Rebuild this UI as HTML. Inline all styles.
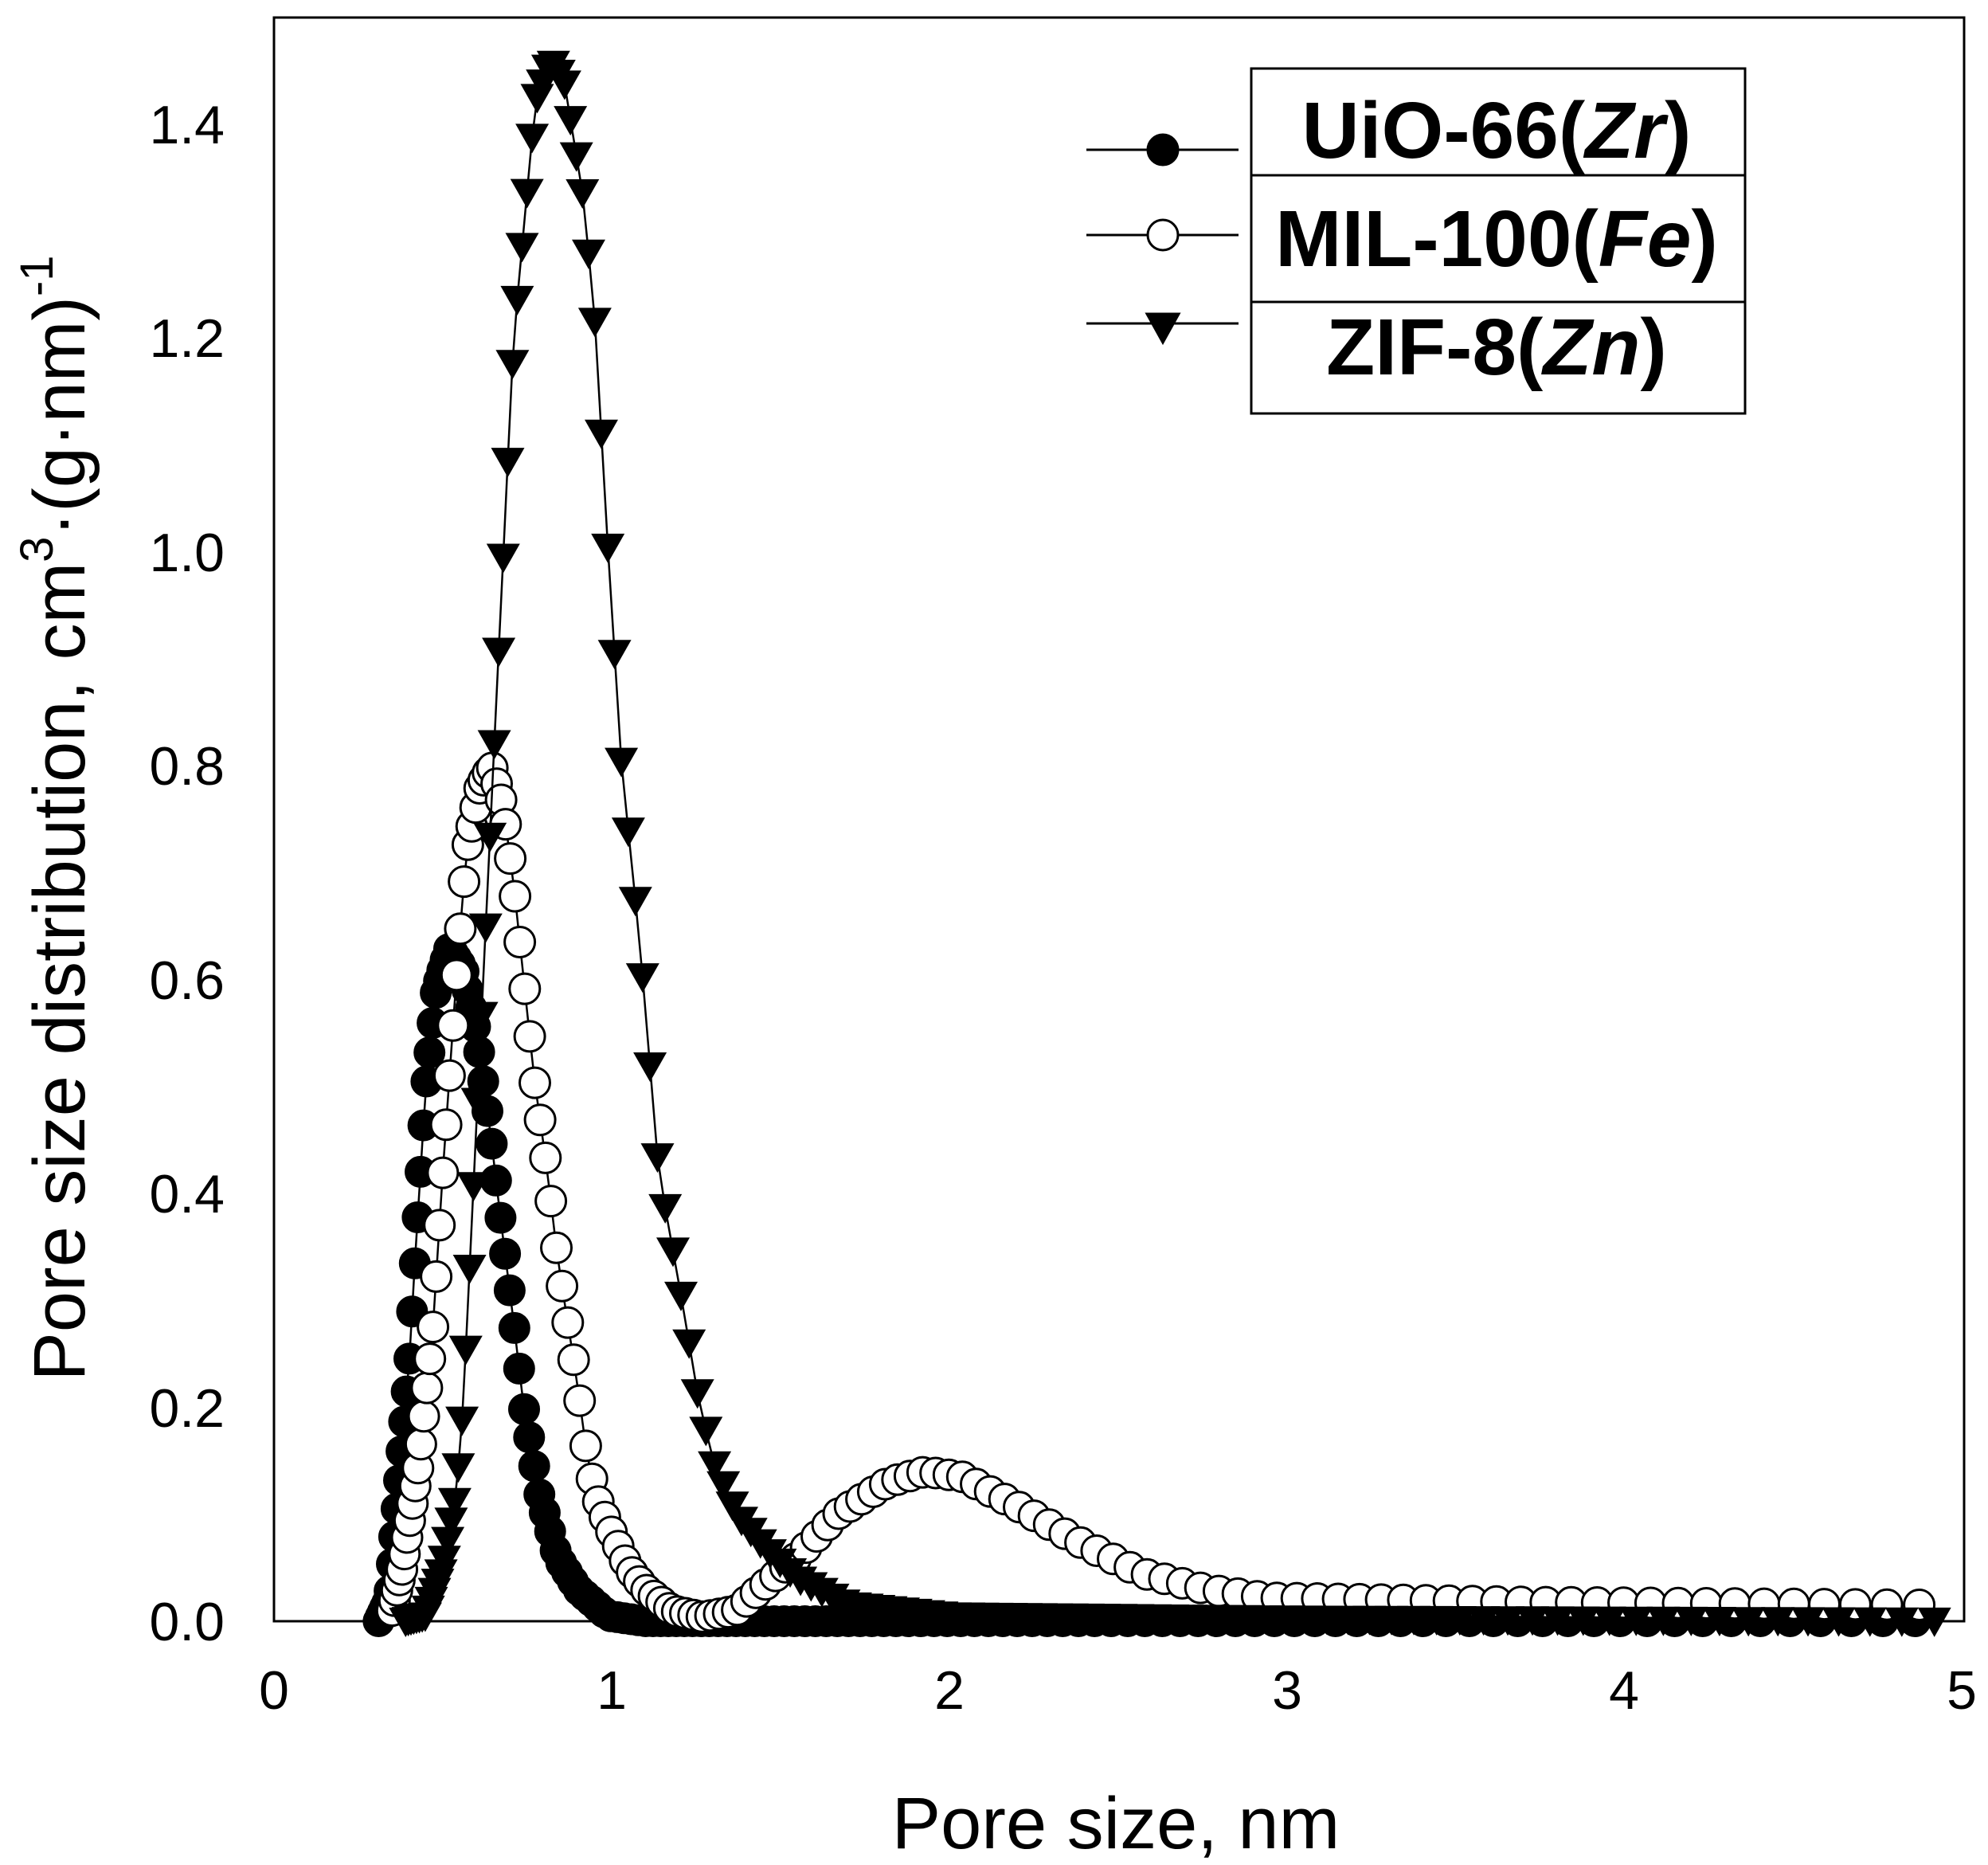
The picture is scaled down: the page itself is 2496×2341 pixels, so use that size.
<!DOCTYPE html>
<html><head><meta charset="utf-8"><style>
html,body{margin:0;padding:0;background:#fff}
svg{display:block}
text{font-family:"Liberation Sans",Arial,sans-serif;fill:#000}
</style></head><body>
<svg id="s" width="2496" height="2341" viewBox="0 0 2496 2341" xmlns="http://www.w3.org/2000/svg">
<rect x="344" y="22" width="2122" height="2013" fill="none" stroke="#000" stroke-width="3"/>
<g font-size="68" text-anchor="end">
<text x="282" y="2059">0.0</text>
<text x="282" y="1791">0.2</text>
<text x="282" y="1522">0.4</text>
<text x="282" y="1254">0.6</text>
<text x="282" y="985">0.8</text>
<text x="282" y="717">1.0</text>
<text x="282" y="448">1.2</text>
<text x="282" y="180">1.4</text>
</g>
<g font-size="68" text-anchor="middle">
<text x="344" y="2145">0</text>
<text x="768" y="2145">1</text>
<text x="1192" y="2145">2</text>
<text x="1616" y="2145">3</text>
<text x="2039" y="2145">4</text>
<text x="2463" y="2145">5</text>
</g>
<text x="1401" y="2320" font-size="92" text-anchor="middle">Pore size, nm</text>
<text transform="translate(106,1027) rotate(-90)" font-size="92" text-anchor="middle">Pore size distribution, cm<tspan font-size="58" dy="-40">3</tspan><tspan dy="40">·(g·nm)</tspan><tspan font-size="58" dy="-40">-1</tspan></text>
<g id="data"></g>
<rect x="1571" y="86" width="620" height="433" fill="#fff" stroke="#000" stroke-width="3"/>
<line x1="1571" y1="220" x2="2191" y2="220" stroke="#000" stroke-width="3"/>
<line x1="1571" y1="379" x2="2191" y2="379" stroke="#000" stroke-width="3"/>
<g font-size="100" font-weight="bold" text-anchor="middle">
<text x="1879" y="198">UiO-66(<tspan font-style="italic">Zr</tspan>)</text>
<text x="1879" y="334">MIL-100(<tspan font-style="italic">Fe</tspan>)</text>
<text x="1879" y="470">ZIF-8(<tspan font-style="italic">Zn</tspan>)</text>
</g>
<g stroke="#000" stroke-width="3">
<line x1="1364" y1="188" x2="1555" y2="188"/>
<line x1="1364" y1="295" x2="1555" y2="295"/>
<line x1="1364" y1="406" x2="1555" y2="406"/>
<circle cx="1460" cy="188" r="19" fill="#000"/>
<circle cx="1460" cy="295" r="19" fill="#fff"/>
<polygon points="1440,394 1480,394 1460,430" fill="#000"/>
</g>
</svg>
<script>
var X0=344,SX=423.8,Y0=2035,SY=1342;
function px(x){return X0+x*SX} function py(y){return Y0-y*SY}
function interp(t,x){for(var i=0;i<t.length-1;i++){if(x<=t[i+1][0]){var a=t[i],b=t[i+1];return a[1]+(b[1]-a[1])*(x-a[0])/(b[0]-a[0]);}}return t[t.length-1][1];}
var U=[[0.31,0],[0.34,0.02],[0.37,0.13],[0.4,0.24],[0.42,0.35],[0.45,0.5],[0.48,0.59],[0.52,0.63],[0.56,0.61],[0.6,0.55],[0.64,0.46],[0.67,0.38],[0.71,0.28],[0.74,0.2],[0.785,0.12],[0.84,0.06],[0.9,0.03],[0.99,0.005],[1.1,0],[5,0]];
var M=[[0.35,0.01],[0.38,0.05],[0.43,0.15],[0.47,0.27],[0.5,0.42],[0.54,0.6],[0.57,0.72],[0.61,0.78],[0.645,0.8],[0.68,0.76],[0.71,0.69],[0.74,0.6],[0.77,0.51],[0.81,0.42],[0.84,0.34],[0.87,0.28],[0.9,0.22],[0.92,0.17],[0.95,0.12],[0.99,0.09],[1.05,0.05],[1.1,0.03],[1.18,0.01],[1.27,0.004],[1.37,0.01],[1.44,0.03],[1.55,0.06],[1.67,0.1],[1.82,0.13],[1.93,0.14],[2.04,0.135],[2.19,0.11],[2.38,0.075],[2.57,0.045],[2.76,0.03],[2.94,0.022],[3.7,0.018],[5,0.015]];
var Z=[[0.39,0],[0.45,0.005],[0.5,0.05],[0.54,0.12],[0.56,0.2],[0.59,0.4],[0.62,0.6],[0.654,0.83],[0.71,1.2],[0.774,1.42],[0.82,1.46],[0.86,1.44],[0.917,1.33],[0.95,1.22],[0.99,1.0],[1.03,0.8],[1.085,0.63],[1.14,0.42],[1.22,0.28],[1.25,0.22],[1.3,0.15],[1.37,0.1],[1.45,0.07],[1.55,0.04],[1.7,0.015],[2,0.005],[3,0.002],[5,0]];
var out="";
function series(t,x0,type){
  var xs=[],x=x0;while(x<=4.92){xs.push(x);x*=1.02;}
  var pts=xs.map(function(v){return [px(v),py(interp(t,v))];});
  out+='<polyline fill="none" stroke="#000" stroke-width="2.5" points="'+pts.map(function(p){return p[0].toFixed(1)+','+p[1].toFixed(1)}).join(' ')+'"/>';
  pts.forEach(function(p){
    if(type==0) out+='<circle cx="'+p[0].toFixed(1)+'" cy="'+p[1].toFixed(1)+'" r="19" fill="#000" stroke="#000" stroke-width="2"/>';
    else if(type==1) out+='<circle cx="'+p[0].toFixed(1)+'" cy="'+p[1].toFixed(1)+'" r="19" fill="#fff" stroke="#000" stroke-width="3"/>';
    else out+='<polygon points="'+(p[0]-21).toFixed(1)+','+(p[1]-17).toFixed(1)+' '+(p[0]+21).toFixed(1)+','+(p[1]-17).toFixed(1)+' '+p[0].toFixed(1)+','+(p[1]+20).toFixed(1)+'" fill="#000"/>';
  });
}
series(U,0.31,0);series(M,0.35,1);series(Z,0.39,2);
document.getElementById("data").innerHTML=out;
</script>
</body></html>
